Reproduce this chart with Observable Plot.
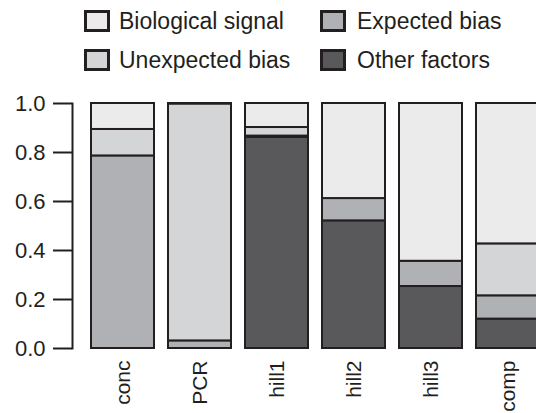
<!DOCTYPE html>
<html>
<head>
<meta charset="utf-8">
<script src="https://cdn.jsdelivr.net/npm/d3@7"></script>
<script src="https://cdn.jsdelivr.net/npm/@observablehq/plot@0.6"></script>
<style>
  html, body { margin: 0; padding: 0; background: white; overflow: hidden; }
  body { width: 536px; font-family: "Liberation Sans", Arial, Helvetica, sans-serif; color: #231f20; }
  #legend { position: relative; height: 80px; }
  .sw { position: absolute; width: 26px; height: 22px; box-sizing: border-box; border: 3px solid #231f20; }
  .lb { position: absolute; font-size: 23px; line-height: 23px; white-space: nowrap; }
</style>
</head>
<body>
<div id="legend"></div>
<div id="chart"></div>
<script>
const categories = ["conc", "PCR", "hill1", "hill2", "hill3", "comp"];
const seriesNames = ["Other factors", "Expected bias", "Unexpected bias", "Biological signal"];
const seriesColors = ["#59595b", "#b0b1b4", "#d4d5d7", "#ebebeb"];
const otherFactors = [0, 0, 0.862, 0.521, 0.253, 0.120];
const expectedBias = [0.786, 0.031, 0.005, 0.091, 0.103, 0.095];
const unexpectedBias = [0.108, 0.967, 0.035, 0, 0, 0.212];
const biologicalSignal = [0.106, 0.002, 0.098, 0.388, 0.644, 0.573];
const yTicks = [0, 0.2, 0.4, 0.6, 0.8, 1.0];
const legendOrder = ["Biological signal", "Expected bias", "Unexpected bias", "Other factors"];

const seriesValues = [otherFactors, expectedBias, unexpectedBias, biologicalSignal];
const data = [];
categories.forEach((c, i) => {
  seriesNames.forEach((s, j) => data.push({category: c, series: s, value: seriesValues[j][i]}));
});

// legend (HTML, above the SVG)
const legend = document.getElementById("legend");
const colX = [[84, 119], [320, 357]];
const rowY = [10, 49];
legendOrder.forEach((name, k) => {
  const col = k % 2, row = Math.floor(k / 2);
  const sw = document.createElement("div");
  sw.className = "sw";
  sw.style.left = colX[col][0] + "px";
  sw.style.top = rowY[row] + "px";
  sw.style.background = seriesColors[seriesNames.indexOf(name)];
  legend.appendChild(sw);
  const lb = document.createElement("div");
  lb.className = "lb";
  lb.style.left = colX[col][1] + "px";
  lb.style.top = (rowY[row] - 0.5) + "px";
  lb.textContent = name;
  legend.appendChild(lb);
});

const chart = Plot.plot({
  width: 536,
  height: 333,
  marginTop: 23,
  marginBottom: 65,
  marginLeft: 72,
  marginRight: 0,
  style: {fontFamily: '"Liberation Sans", Arial, Helvetica, sans-serif', color: "#231f20", background: "white"},
  x: {domain: categories, range: [89.7, 539.9], paddingInner: 0.176, paddingOuter: 0, label: null},
  y: {domain: [0, 1], label: null},
  color: {domain: seriesNames, range: seriesColors},
  marks: [
    Plot.barY(data, {
      x: "category", y: "value", z: "series", fill: "series",
      stroke: "#231f20", strokeWidth: 2
    }),
    Plot.frame({anchor: "left", stroke: "#231f20", strokeWidth: 2}),
    Plot.axisY({ticks: yTicks, tickFormat: d3.format(".1f"), tickSize: 19, tickPadding: 8, fontSize: 22, strokeWidth: 2, stroke: "#231f20", label: null}),
    Plot.axisX({tickRotate: -90, tickSize: 0, tickPadding: 12, fontSize: 21, label: null})
  ]
});
document.getElementById("chart").appendChild(chart);
</script>
</body>
</html>
